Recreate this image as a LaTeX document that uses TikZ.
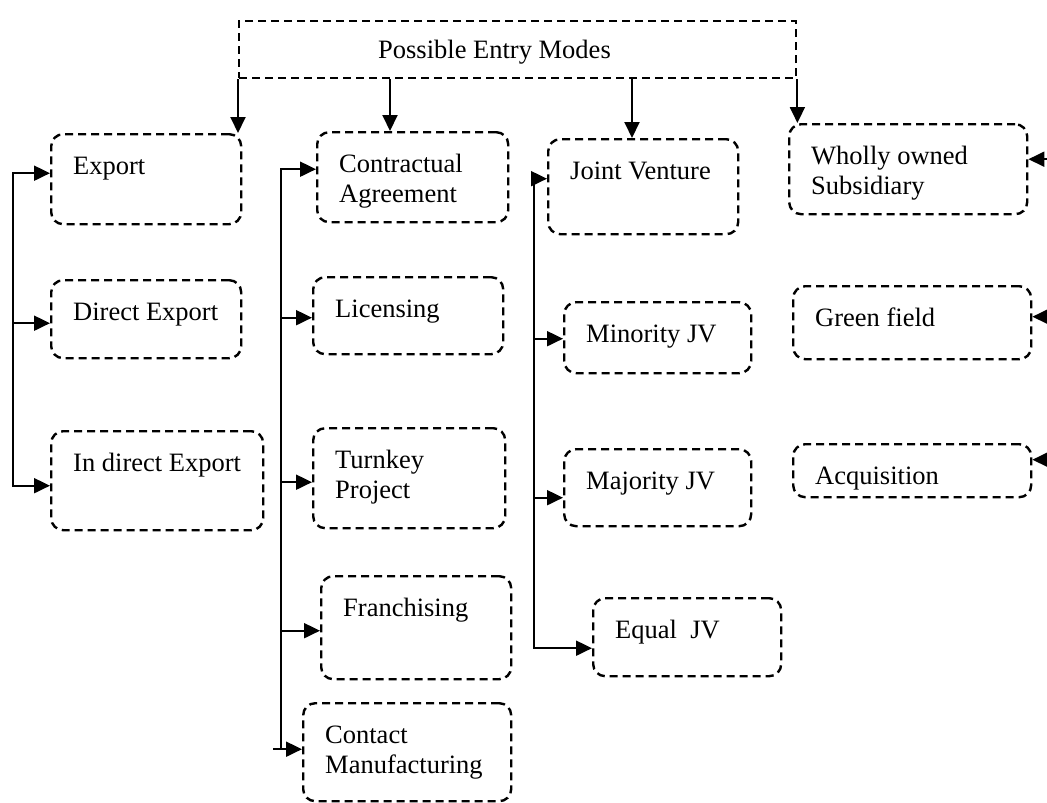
\documentclass[tikz,border=0pt]{standalone}
\usepackage{fontspec}
\setmainfont{Liberation Serif}
\usetikzlibrary{arrows.meta,calc}
\tikzset{
  modefont/.style={font=\fontsize{26.5}{30}\selectfont,
    execute at begin node={\spaceskip=0pt\xspaceskip=0pt}},
  headbox/.style={draw, line width=2.4pt, dash pattern=on 8pt off 5pt, modefont,
    anchor=north west, align=flush left, inner ysep=5pt, text height=32pt},
  modebox/.code 2 args={%
    \pgfmathsetlengthmacro\mbw{#1-44pt}%
    \pgfmathsetlengthmacro\mbd{#2-45pt}%
    \tikzset{draw, line width=2.4pt, dash pattern=on 8pt off 5pt, rounded corners=12pt,
      modefont, anchor=north west, align=flush left, inner xsep=22pt, inner ysep=5pt,
      text height=35pt, text width=\mbw, text depth=\mbd}},
  link/.style={line width=2pt},
  linkarr/.style={link, -{Triangle[length=16pt,width=15pt]}},
  buslink/.style={link, {Triangle[length=16pt,width=15pt]}-{Triangle[length=16pt,width=15pt]}}
}
\begin{document}
\begin{tikzpicture}[x=1pt,y=-1pt]
  \useasboundingbox (0,0) rectangle (1047,803);
  % heading
  \node[headbox, text width=279pt, inner xsep=139pt, text depth=15pt] (title) at (238,20) {Possible Entry Modes};
  % export
  \node[modebox={190}{90}] (exp) at (50,133) {Export};
  \node[modebox={190}{78}] (dexp) at (50,279) {Direct Export};
  \node[modebox={212}{99}] (iexp) at (50,430) {In direct Export};
  % contracts
  \node[modebox={191}{90}] (ca) at (316,131) {Contractual\\Agreement};
  \node[modebox={190}{77}] (lic) at (312,276) {Licensing};
  \node[modebox={192}{100}] (turn) at (312,427) {Turnkey\\Project};
  \node[modebox={190}{103}] (fran) at (320,575) {Franchising};
  \node[modebox={208}{98}] (cman) at (302,702) {Contact\\Manufacturing};
  % joint ventures
  \node[modebox={190}{95}] (jv) at (547,138) {Joint Venture};
  \node[modebox={187}{71}] (mino) at (563,301) {Minority JV};
  \node[modebox={187}{77}] (majo) at (563,448) {Majority JV};
  \node[modebox={188}{78}] (eqjv) at (592,597) {Equal\ \ JV};
  % subsidiaries
  \node[modebox={238}{90}] (wos) at (788,123) {Wholly owned\\Subsidiary};
  \node[modebox={238}{73}] (gf) at (792,285) {Green field};
  \node[modebox={238}{53}] (acq) at (792,443) {Acquisition};
  % drops from the heading
  \coordinate (d2) at ($(title.south west)+(152,0)$);
  \coordinate (d3) at ($(title.south west)+(394,0)$);
  \draw[linkarr] (title.south west) -- (title.south west |- exp.north);
  \draw[linkarr] (d2) -- (d2 |- ca.north);
  \draw[linkarr] (d3) -- (d3 |- jv.north);
  \draw[linkarr] (title.south east) -- (title.south east |- wos.north);
  % buses
  \coordinate (busA) at (13,0);
  \coordinate (busB) at (281,0);
  \coordinate (busC) at (534,0);
  \coordinate (edge) at (1047,0);
  \draw[buslink] ($(iexp.west)+(0,5)$) -- ($(busA |- iexp.west)+(0,5)$)
    -- ($(busA |- exp.west)+(0,-6)$) -- ($(exp.west)+(0,-6)$);
  \draw[linkarr] ($(busA |- dexp.west)+(0,4)$) -- ($(dexp.west)+(0,4)$);
  \draw[linkarr] ($(busB |- cman.west)+(-8,-3)$) -- ($(cman.west)+(0,-3)$);
  \draw[linkarr] ($(busB |- cman.west)+(0,-3)$) -- ($(busB |- ca.west)+(0,-8)$) -- ($(ca.west)+(0,-8)$);
  \foreach \n/\dy in {lic/2,turn/4,fran/3}
    \draw[linkarr] ($(busB |- \n.west)+(0,\dy)$) -- ($(\n.west)+(0,\dy)$);
  \draw[buslink] ($(eqjv.west)+(0,11)$) -- ($(busC |- eqjv.west)+(0,11)$)
    -- ($(busC |- jv.west)+(0,-8)$) -- ($(jv.west)+(0,-8)$);
  \foreach \n/\dy in {mino/1,majo/10}
    \draw[linkarr] ($(busC |- \n.west)+(0,\dy)$) -- ($(\n.west)+(0,\dy)$);
  \foreach \n/\dy in {wos/-10,gf/-6,acq/-11}
    \draw[linkarr] ($(edge |- \n.east)+(0,\dy)$) -- ($(\n.east)+(0,\dy)$);
\end{tikzpicture}
\end{document}
